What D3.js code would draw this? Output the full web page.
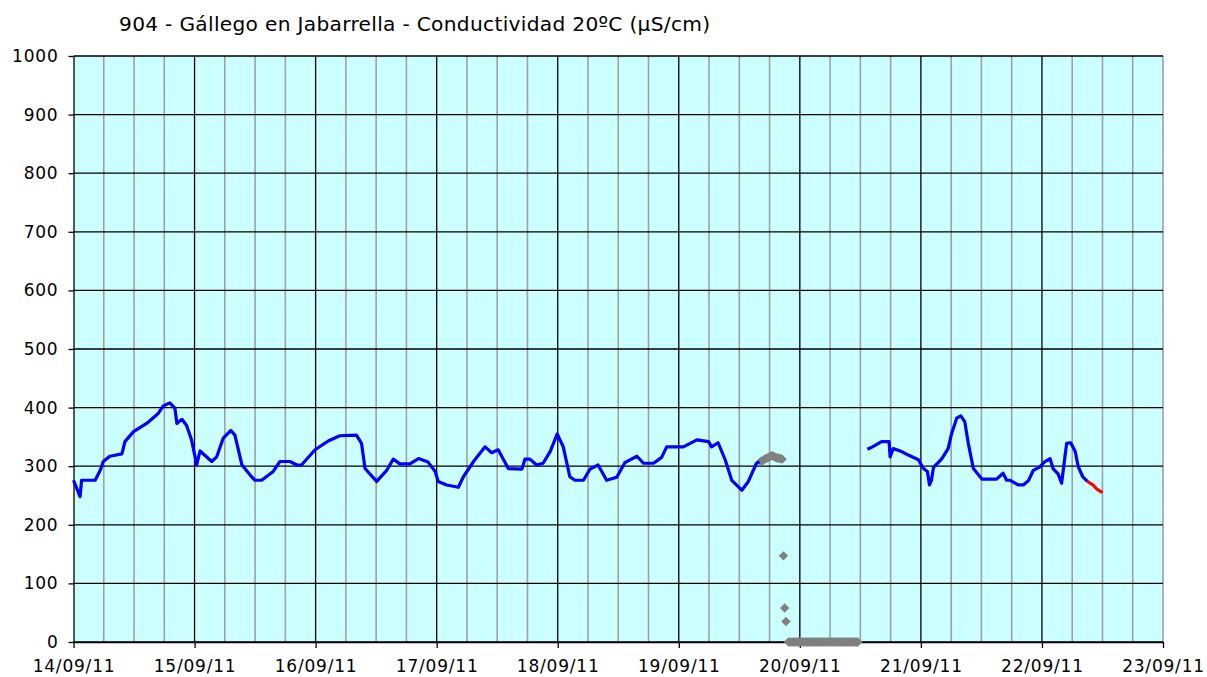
<!DOCTYPE html>
<html lang="es">
<head>
<meta charset="UTF-8">
<title>Conductividad</title>
<script src="https://cdn.jsdelivr.net/npm/d3@7"></script>
<style>
  body { margin: 0; background: #fff; }
  text { font-family: "DejaVu Sans", Verdana, sans-serif; fill: #000; }
</style>
</head>
<body>
<div id="chart"></div>
<script>
// chart texts
var title = "904 - Gállego en Jabarrella - Conductividad 20ºC (µS/cm)";
var xTickLabels = ["14/09/11","15/09/11","16/09/11","17/09/11","18/09/11","19/09/11","20/09/11","21/09/11","22/09/11","23/09/11"];
var yTicks = [0,100,200,300,400,500,600,700,800,900,1000];

// hours from 14/09/11 00:00 -- valid readings (blue), null = gap
var blueHours = [0,1.3,1.6,4.3,5.3,5.9,7.2,9.6,10.2,11.9,14.5,16.8,17.8,19.1,20.1,20.5,21.5,22.4,23.4,24.1,24.4,25.1,27.4,28.4,29.7,31.2,32.0,33.4,35.3,36.0,37.3,39.6,40.9,42.9,44.3,45.2,47.9,50.5,52.8,56.1,57.1,57.8,60.1,62.1,63.4,64.7,66.7,68.4,70.3,71.7,72.3,74.0,76.3,77.3,79.3,81.6,82.9,84.2,86.2,88.9,89.5,90.5,91.8,93.1,94.5,95.9,97.1,98.4,99.4,101.1,102.4,104.0,105.7,107.7,109.3,111.7,113.0,115.0,116.6,117.6,120.9,123.6,125.9,126.5,127.8,129.2,130.5,132.5,133.8,135.4,136.0,
  146,
  157.4,158.4,160.2,161.7,161.9,162.5,164.2,165.5,167.5,168.5,169.3,169.7,170.1,170.5,172.1,173.4,174.1,175.1,175.9,176.7,177.4,178.4,180.1,183.0,184.3,185.0,185.7,187.3,188.3,189.3,190.3,191.6,192.6,193.6,194.2,195.2,195.9,196.6,196.9,197.7,198.6,199.2,200.1,201.0];
var blueValues = [276,248,276,276,293,308,317,321,342,359,373,390,403,408,399,373,380,370,345,316,302,326,308,316,348,361,353,302,282,276,276,291,308,308,302,302,328,343,352,353,339,296,274,293,312,304,304,313,307,291,274,268,264,282,308,333,323,328,296,295,312,312,302,305,325,355,333,282,276,276,295,302,276,281,306,317,305,305,315,333,333,345,342,333,340,311,276,259,274,305,308,
  null,
  329,333,342,342,316,330,325,319,311,296,291,268,276,298,312,330,356,382,386,376,339,296,278,278,288,276,276,268,268,275,293,299,308,313,296,287,271,319,339,340,325,299,282,274];

// latest readings (red)
var redHours = [201.0,202.1,202.9,204.0];
var redValues = [274,268,261,255];

// suspect readings (grey diamonds)
var greyHours = [136.25,136.5,136.75,137.0,137.25,137.5,137.75,138.0,138.25,138.5,138.75,139.0,139.25,139.5,139.75,140.0,140.25,140.5,
  140.75,141.0,141.25,
  141.75,142.0,142.25,142.5,142.75,143.0,143.25,143.5,143.75,144.0,144.25,144.5,144.75,145.0,145.25,145.5,145.75,146.0,146.25,146.5,146.75,147.0,147.25,147.5,147.75,148.0,
  148.25,148.5,148.75,149.0,149.25,149.5,149.75,150.0,150.25,150.5,150.75,151.0,151.25,151.5,151.75,152.0,152.25,152.5,152.75,153.0,153.25,153.5,153.75,154.0,154.25,154.5,154.75,155.0,155.25,155.5];
var greyValues = [308,309,310,312,313,314,315,316,317,318,317,316,315,314,314,313,313,312,
  147,58,35,
  0,0,0,0,0,0,0,0,0,0,0,0,0,0,0,0,0,0,0,0,0,0,0,0,0,0,0,
  0,0,0,0,0,0,0,0,0,0,0,0,0,0,0,0,0,0,0,0,0,0,0,0,0,0,0,0,0];

var width = 1207, height = 677;
var plotLeft = 73.5, plotRight = 1163, plotTop = 56, plotBottom = 642;

var svg = d3.select("#chart").append("svg")
  .attr("width", width)
  .attr("height", height);

var t0 = new Date(Date.UTC(2011, 8, 14));
var t1 = d3.utcDay.offset(t0, 9);
function hourDate(h) { return new Date(t0.getTime() + h * 3600e3); }

var x = d3.scaleUtc().domain([t0, t1]).range([plotLeft, plotRight]);
var y = d3.scaleLinear().domain([0, 1000]).range([plotBottom, plotTop]);

// plot background
svg.append("rect")
  .attr("x", plotLeft).attr("y", plotTop)
  .attr("width", plotRight - plotLeft).attr("height", plotBottom - plotTop)
  .attr("fill", "#ccffff");

// 6-hourly grey grid
var sixHours = d3.utcHour.every(6).range(t0, d3.utcHour.offset(t1, 1))
  .filter(function(d) { return d.getUTCHours() !== 0 || +d === +t1; });
svg.append("g").selectAll("line").data(sixHours).enter().append("line")
  .attr("x1", function(d){ return x(d); }).attr("x2", function(d){ return x(d); })
  .attr("y1", plotTop).attr("y2", plotBottom)
  .attr("stroke", "#a0a0a0").attr("stroke-width", 1.6);

// black grid: days and every 100
var days = d3.utcDay.range(d3.utcDay.offset(t0, 1), t1);
svg.append("g").selectAll("line").data(days).enter().append("line")
  .attr("x1", function(d){ return x(d); }).attr("x2", function(d){ return x(d); })
  .attr("y1", plotTop).attr("y2", plotBottom)
  .attr("stroke", "#000").attr("stroke-width", 1.3);
svg.append("g").selectAll("line").data(yTicks).enter().append("line")
  .attr("x1", plotLeft).attr("x2", plotRight)
  .attr("y1", function(d){ return y(d); }).attr("y2", function(d){ return y(d); })
  .attr("stroke", "#000").attr("stroke-width", 1.3);

// axes
var yAxis = svg.append("g")
  .attr("transform", "translate(" + plotLeft + ",0)")
  .call(d3.axisLeft(y).tickValues(yTicks).tickFormat(d3.format("d"))
    .tickSize(5).tickPadding(10).tickSizeOuter(0));
var xAxis = svg.append("g")
  .attr("transform", "translate(0," + plotBottom + ")")
  .call(d3.axisBottom(x).tickValues(d3.utcDay.range(t0, d3.utcDay.offset(t1, 1)))
    .tickFormat(function(d, i){ return xTickLabels[i]; })
    .tickSize(6).tickPadding(12).tickSizeOuter(0));
[yAxis, xAxis].forEach(function(a) {
  a.select(".domain").attr("stroke", "#000").attr("stroke-width", 1.3);
  a.selectAll(".tick line").attr("stroke", "#000").attr("stroke-width", 1.3);
  a.selectAll("text").attr("font-size", 17).attr("letter-spacing", 0.8)
    .attr("font-family", "'DejaVu Sans', Verdana, sans-serif");
});

// title, sized to span the same width as the original
var titleText = svg.append("text")
  .attr("x", 119).attr("y", 31)
  .attr("font-size", 17)
  .attr("letter-spacing", 0.3)
  .text(title);
var tl = titleText.node().getComputedTextLength();
titleText.attr("font-size", 17 * 595 / tl);

// grey suspect points
var diamond = d3.symbol().type(d3.symbolSquare).size(44);
svg.append("g").selectAll("path").data(greyHours).enter().append("path")
  .attr("d", diamond)
  .attr("transform", function(h, i){ return "translate(" + x(hourDate(h)) + "," + y(greyValues[i]) + ") rotate(45)"; })
  .attr("fill", "#808080");

// lines
var line = d3.line()
  .defined(function(d){ return d[1] !== null; })
  .x(function(d){ return x(hourDate(d[0])); })
  .y(function(d){ return y(d[1]); });

svg.append("path")
  .datum(blueHours.map(function(h, i){ return [h, blueValues[i]]; }))
  .attr("d", line)
  .attr("fill", "none").attr("stroke", "#0000ff").attr("stroke-width", 3.2)
  .attr("stroke-linejoin", "round");

svg.append("path")
  .datum(redHours.map(function(h, i){ return [h, redValues[i]]; }))
  .attr("d", line)
  .attr("fill", "none").attr("stroke", "#ff0000").attr("stroke-width", 3.2)
  .attr("stroke-linejoin", "round");
</script>
</body>
</html>
